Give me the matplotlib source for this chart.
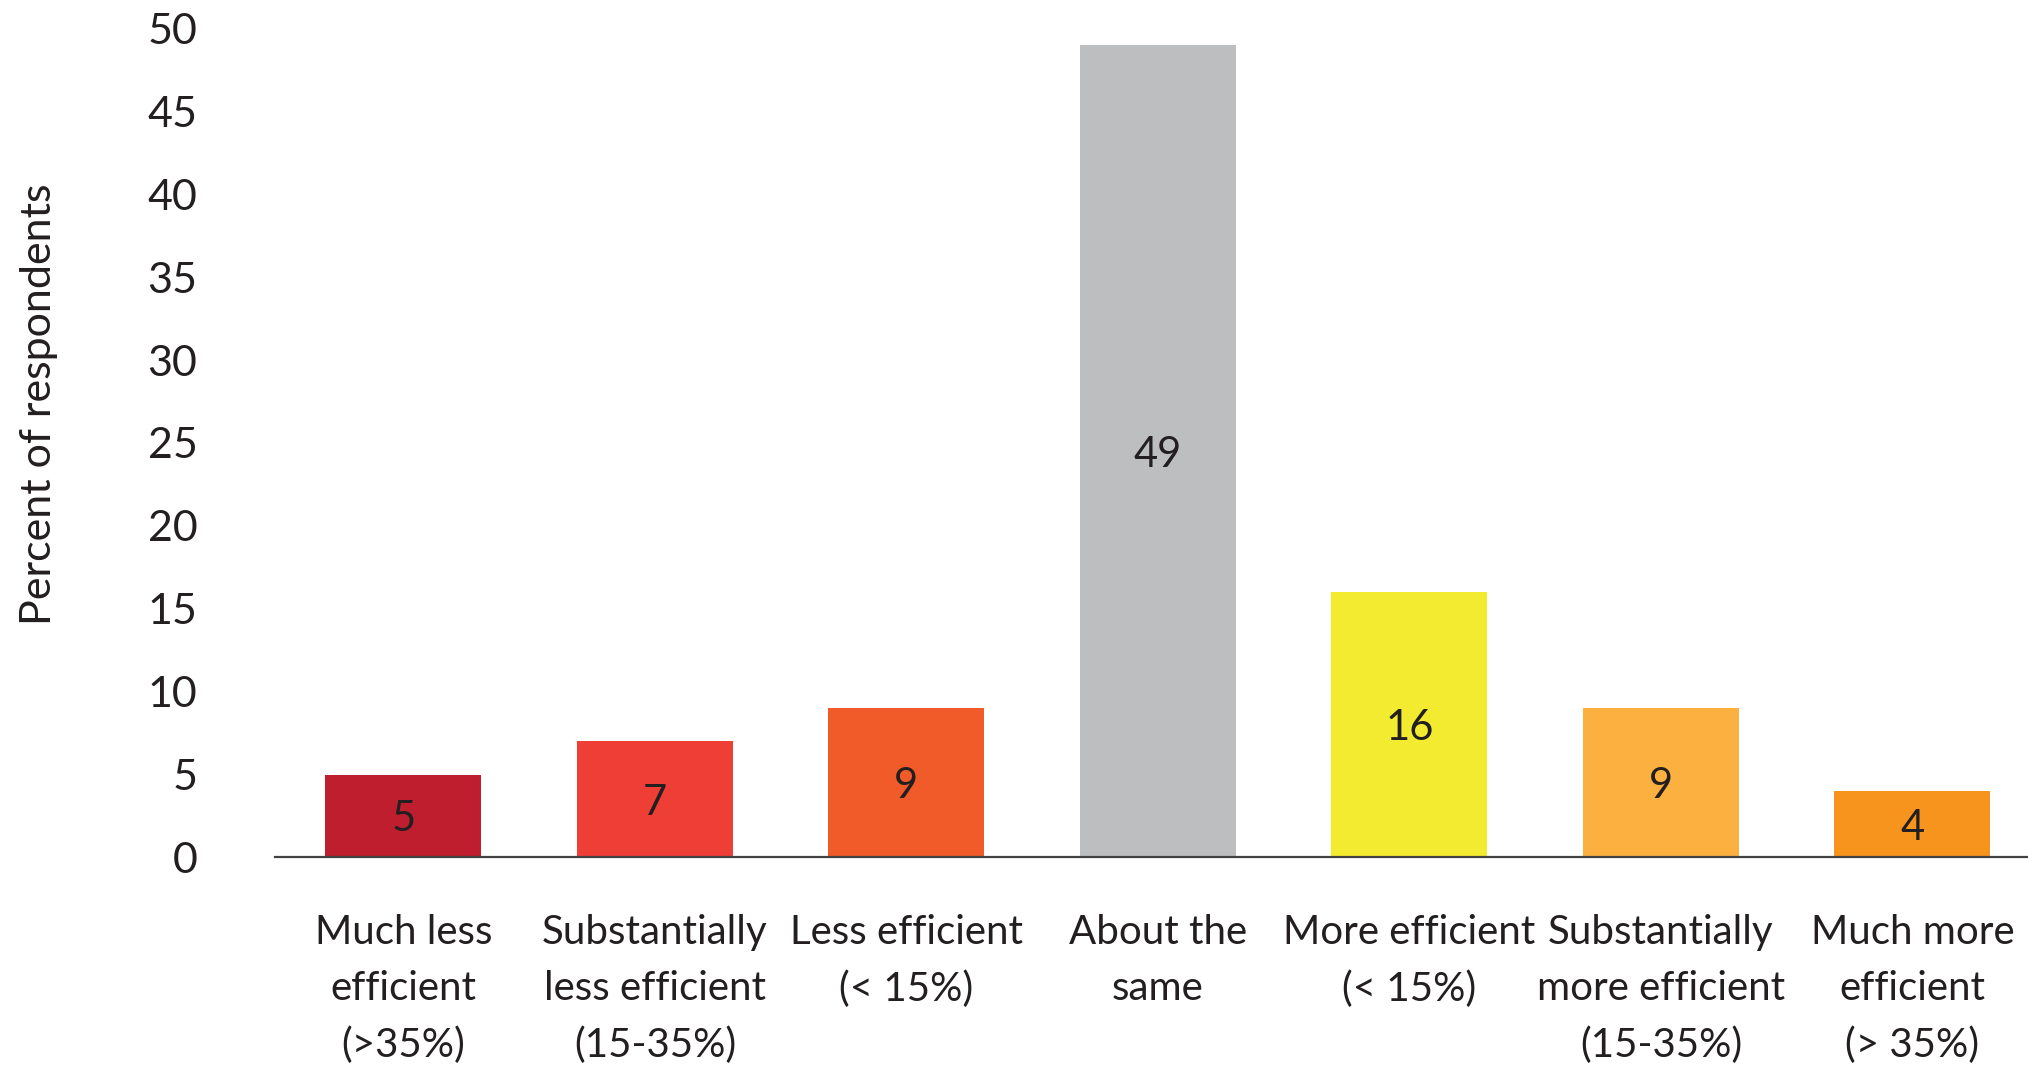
import matplotlib
matplotlib.use("Agg")
import matplotlib.pyplot as plt

categories = [
    "Much less\nefficient\n(>35%)",
    "Substantially\nless efficient\n(15-35%)",
    "Less efficient\n(< 15%)",
    "About the\nsame",
    "More efficient\n(< 15%)",
    "Substantially\nmore efficient\n(15-35%)",
    "Much more\nefficient\n(> 35%)",
]
values = [5, 7, 9, 49, 16, 9, 4]
colors = ["#BE1E2D", "#EF3E36", "#F15A29", "#BCBEC0", "#F2EB30", "#FBB040", "#F7941D"]
yticks = [0, 5, 10, 15, 20, 25, 30, 35, 40, 45, 50]

text_color = "#231F20"
plt.rcParams["font.family"] = ["Lato", "DejaVu Sans"]

fig = plt.figure(figsize=(20.28, 10.66), dpi=100)
ax = fig.add_axes([0.1357, 0.1956, 0.8643, 0.7777])

x = list(range(len(values)))
bars = ax.bar(x, values, width=0.62, color=colors, zorder=2)

# value labels centred inside each bar
for rect, v in zip(bars, values):
    ax.text(rect.get_x() + rect.get_width() / 2, v / 2 - 0.2, str(v),
            ha="center", va="center", fontsize=30, color=text_color)

ax.set_xlim(-0.51, 6.46)
ax.set_ylim(0, 50)
ax.set_yticks(yticks)
ax.set_yticklabels([str(t) for t in yticks], fontsize=31, color=text_color)
ax.tick_params(axis="y", length=0, pad=56)
ax.set_xticks(x)
ax.set_xticklabels(categories, fontsize=29, color=text_color, linespacing=1.62)
ax.tick_params(axis="x", length=0, pad=41)

for side in ["left", "right", "top"]:
    ax.spines[side].set_visible(False)
ax.spines["bottom"].set_color("#414042")
ax.spines["bottom"].set_linewidth(1.6)

fig.text(0.019, 1 - 404 / 1066, "Percent of respondents", rotation=90,
         ha="center", va="center", fontsize=31, color=text_color)

fig.savefig("out.png", dpi=100, facecolor="white")
